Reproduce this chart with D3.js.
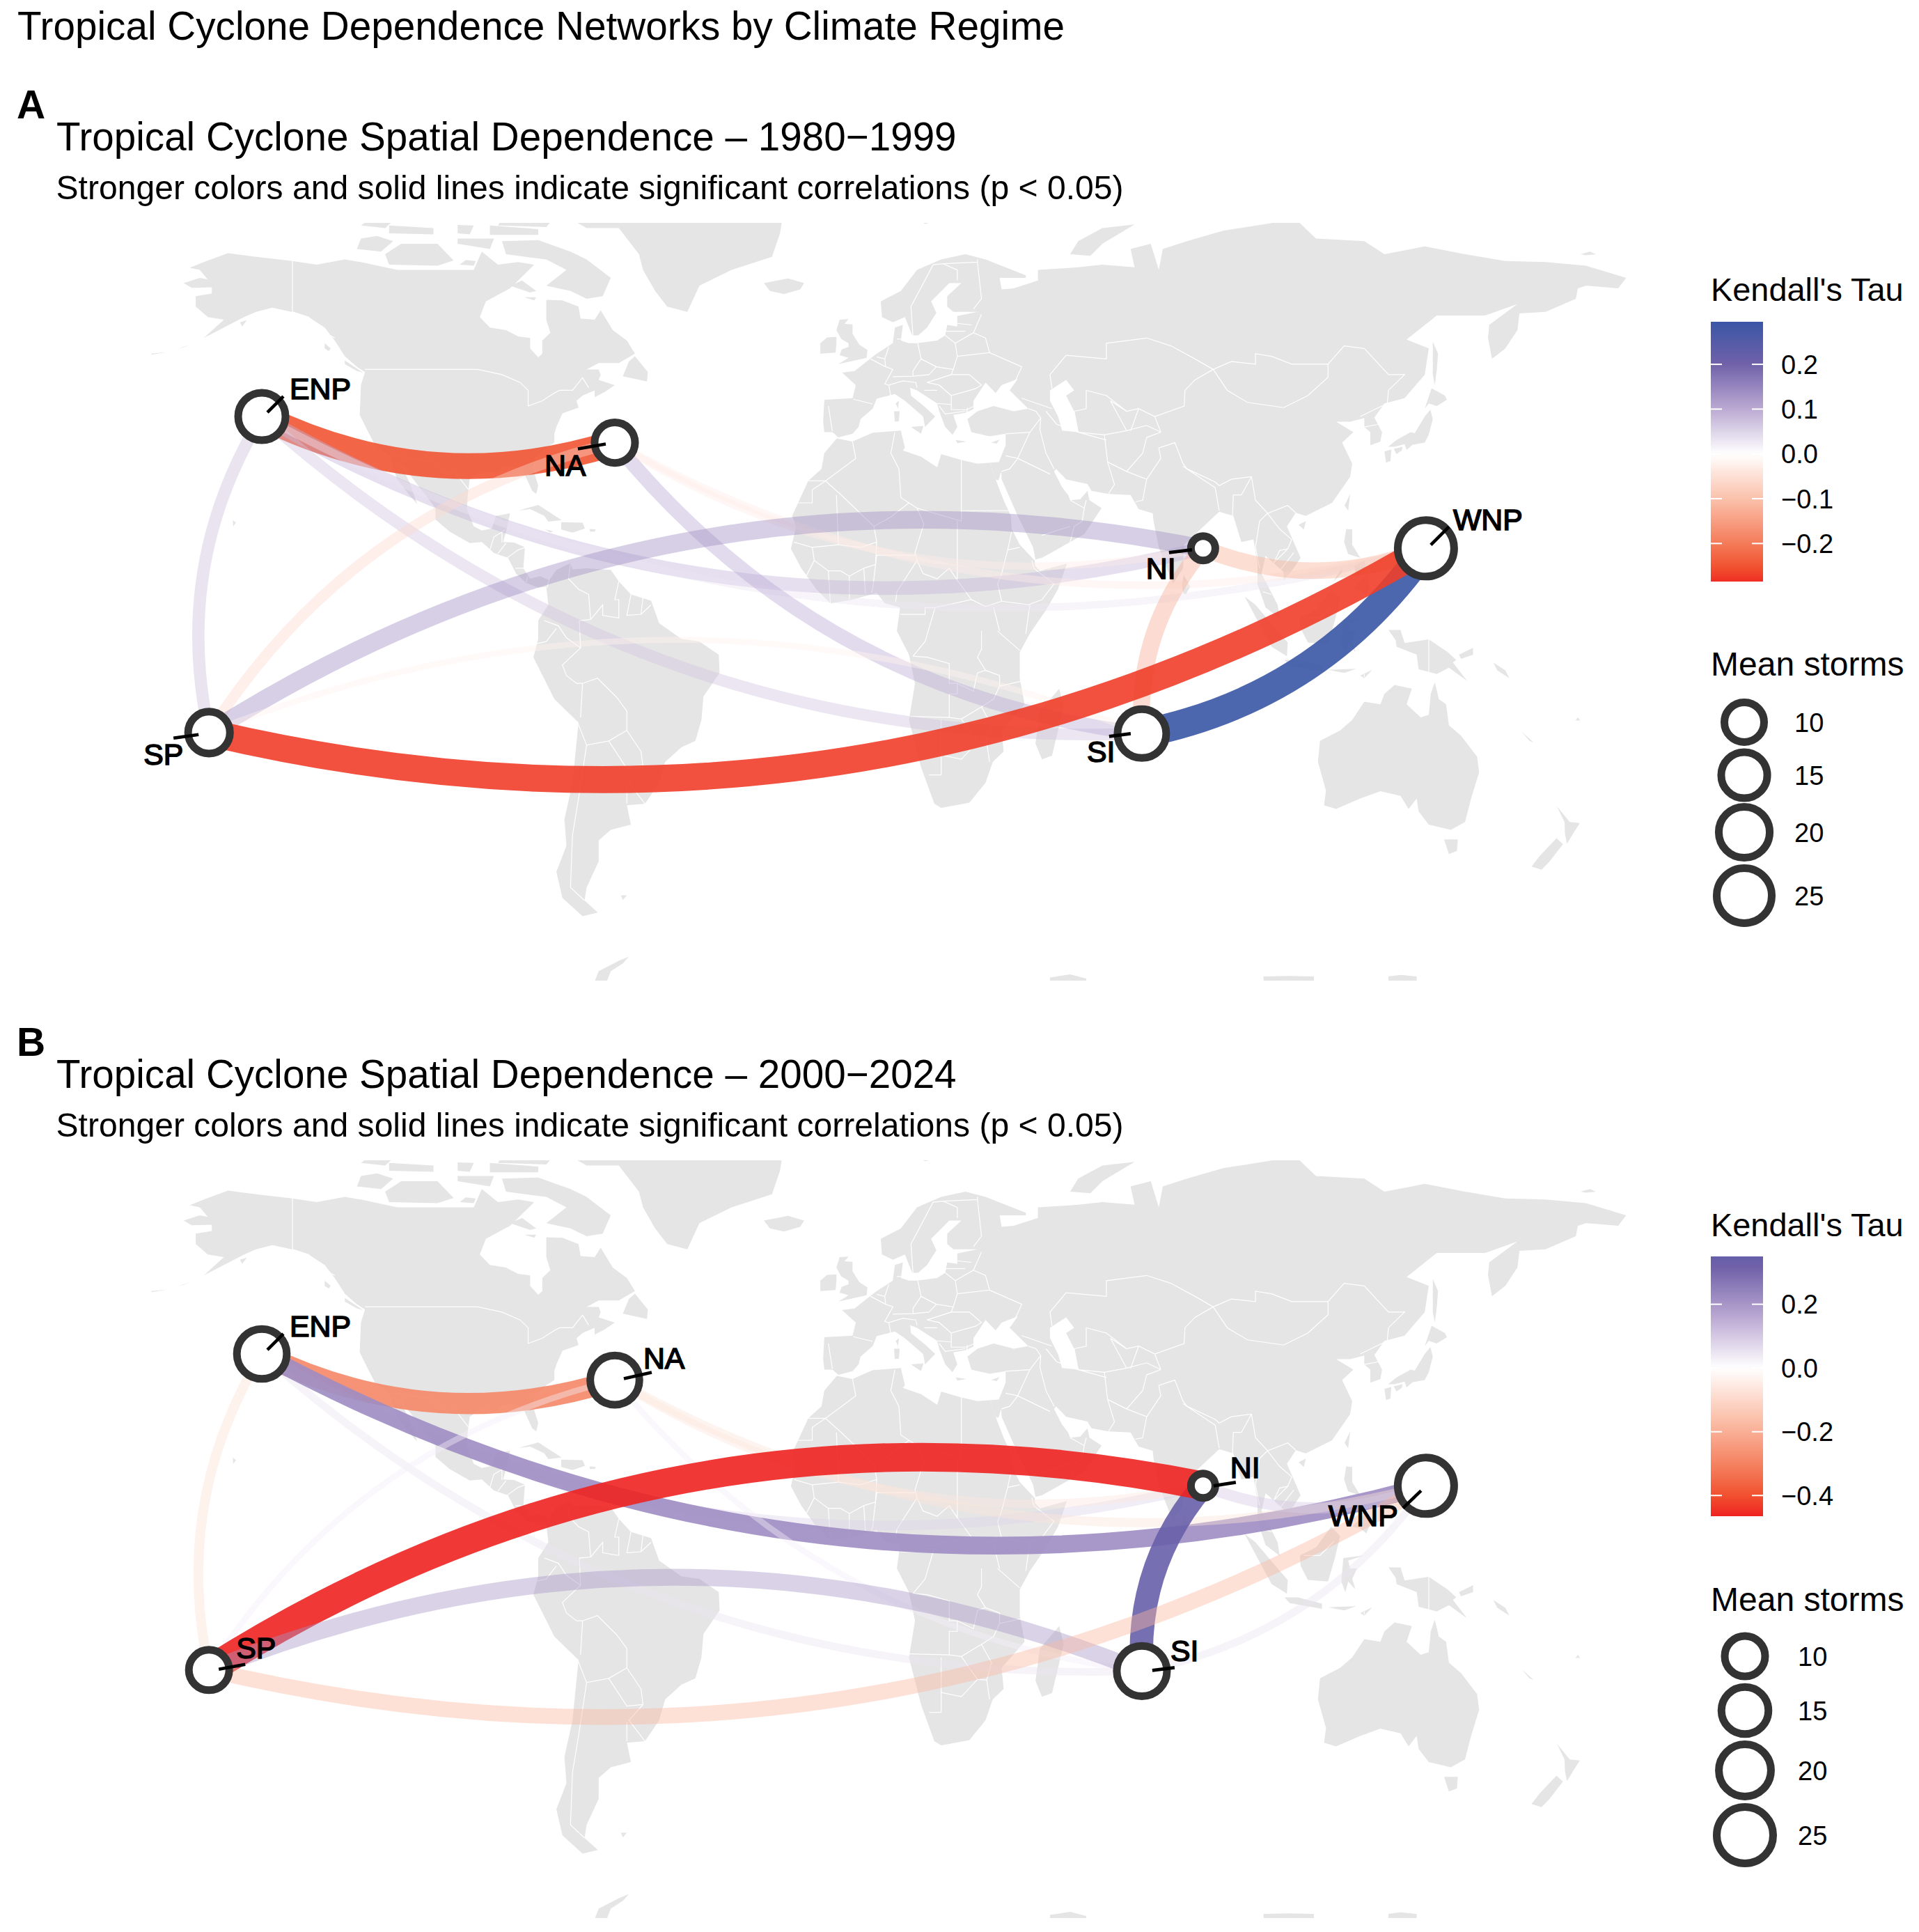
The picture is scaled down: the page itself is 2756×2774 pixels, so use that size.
<!DOCTYPE html>
<html>
<head>
<meta charset="utf-8">
<script src="https://cdnjs.cloudflare.com/ajax/libs/d3/7.8.5/d3.min.js"></script>
<style>
body { margin: 0; background: #fff; }
text { font-family: "Liberation Sans", Arial, sans-serif; }
</style>
</head>
<body>
<svg id="chart"></svg>
<script>
// ---- data ----
const regions = ["ENP", "NA", "NI", "SI", "SP", "WNP"];
const regionLon = [-148.6, -61, 85, 69.8, -161.7, 140.3];
const regionLat = [40, 35, 14.8, -20.6, -20.4, 14.8];

const stormsA = [16.2, 10.5, 5, 17.6, 11.5, 26.8];
const stormsB = [17.7, 17, 5, 18, 10, 25];

const edgeFrom = ["ENP", "ENP", "ENP", "ENP", "ENP", "NA", "NA", "NA", "NA", "NI", "NI", "NI", "SI", "SI", "SP"];
const edgeTo = ["NA", "NI", "SI", "SP", "WNP", "NI", "SI", "SP", "WNP", "SI", "SP", "WNP", "SP", "WNP", "WNP"];
const tauA = [-0.25, 0.09, 0.07, 0.075, 0.03, -0.03, 0.10, -0.06, -0.03, -0.13, 0.14, -0.125, -0.02, 0.295, -0.27];
const sigA = [1, 0, 0, 0, 0, 0, 0, 0, 0, 0, 0, 0, 0, 1, 1];
const tauB = [-0.29, 0.08, 0.05, -0.08, 0.22, -0.06, 0.03, 0.03, -0.07, 0.34, -0.465, 0.1, 0.2, 0.05, -0.18];
const sigB = [1, 0, 0, 0, 1, 0, 0, 0, 0, 1, 1, 0, 0, 0, 0];

const tauTicksA = [0.2, 0.1, 0, -0.1, -0.2];
const tauTicksB = [0.2, 0, -0.2, -0.4];
const tauLimitsA = [-0.285, 0.295];
const tauLimitsB = [-0.465, 0.35];
const stormTicks = [10, 15, 20, 25];

// world outlines, [lon, lat]
const land = [
  // north america
  [[-168,65.5],[-164,66.5],[-162,66.2],[-164,68],[-166.5,68.4],[-163,69.5],[-157,71.2],[-150,70.5],[-141,69.7],[-135,69],[-128,70],[-124,69.5],[-115,68],[-108,68],[-102,68],[-96,68],[-94,71.5],[-90,69],[-85,69.5],[-81,69],[-85,66],[-87,64.5],[-93,62],[-94.5,59],[-92,57],[-88,56.5],[-85,55.3],[-82,55],[-82,53],[-80,51.3],[-79,52],[-79,54.5],[-77,56],[-78,58.5],[-78,62.3],[-74,62.2],[-70,61],[-69.5,58.7],[-66,58.5],[-64.5,60.3],[-61.5,56.5],[-58,54.5],[-56,52],[-60,50.2],[-65,50.2],[-68,49],[-65,49],[-64.5,48],[-65,47],[-61,46],[-63.5,44.7],[-66,43.7],[-66,45],[-69,44],[-70.5,43],[-70,41.7],[-74,40.6],[-75.5,38],[-76,36.7],[-76,35],[-78,34],[-81,32],[-81.3,30],[-80,26.8],[-80.5,25.2],[-81.5,25.8],[-82.8,28],[-84,30],[-86,30.4],[-89,30.3],[-90,29.2],[-94,29.6],[-97,28],[-97.5,25],[-97.7,22.3],[-96,19],[-94,18.2],[-91.5,18.6],[-90.5,21],[-87,21.5],[-88,18],[-88.7,16],[-86,15.9],[-83.3,15],[-83.7,11],[-82,9],[-79.5,9.5],[-77.3,8.7],[-78,7.5],[-80,7.3],[-83,8.2],[-85.5,10],[-87.5,13],[-91,13.9],[-94,16],[-97,15.8],[-102,18],[-105.5,20.3],[-105.5,22.5],[-109,26],[-112.5,29.5],[-114.7,31.7],[-112,27.5],[-110,23.2],[-112,25],[-115,28],[-117,32.5],[-120.5,34.5],[-122.5,37.5],[-124.3,40.3],[-124,46],[-123,48.5],[-125,49.5],[-128,51.5],[-130.5,54.5],[-133,57],[-137,59],[-140,59.8],[-146,60.8],[-150,60],[-153,59],[-158,57],[-163,55],[-158,58.5],[-162,59],[-165,61],[-165,63],[-161,63.5],[-161,64.7],[-166,64.6]],
  // greenland
  [[-73,78.2],[-68,76],[-60,76],[-55,71],[-54,68],[-51,64],[-48,61],[-43,60],[-40,65],[-32,68],[-22,70.5],[-20,75],[-19,80],[-30,83.5],[-60,82.5],[-68,80.5]],
  // south america
  [[-77.3,8.7],[-75.5,10.7],[-72,12],[-71.5,10.8],[-68,11],[-62,10.7],[-60,8.5],[-57,6],[-52,4.8],[-50,0.5],[-44.5,-2.5],[-40,-3],[-35.2,-5.5],[-35,-9],[-39,-13.5],[-39.5,-18],[-41,-22],[-44.5,-23.2],[-48.5,-26],[-50,-30],[-53.5,-34],[-58,-34.3],[-57,-38],[-62,-39],[-65,-41],[-65,-45],[-68,-50],[-68.5,-52.5],[-65.2,-54.8],[-69,-55.5],[-74,-52],[-75.5,-47],[-73,-42],[-73.5,-37],[-71.5,-30],[-70,-18.5],[-76,-14],[-81.2,-6],[-80,-2.5],[-80,1],[-77.5,4],[-78,7.5]],
  // africa
  [[-5.9,35.8],[-2,35.2],[3,36.9],[10,37.3],[11,34],[10.5,33.5],[15,32.3],[19,30.3],[20,32.8],[25,31.7],[29,31],[32.3,31.2],[32.6,29.9],[34,27],[35.5,24],[37.3,21],[37.5,18.5],[39.5,15.5],[43.2,12.5],[43.3,11.5],[44.5,10.5],[51.2,11.9],[49,7],[46,3],[42,-1.5],[39.5,-5],[39.5,-10],[40.7,-15],[35,-20],[35.5,-24],[32.8,-26],[31,-30],[27,-33.8],[20,-34.8],[18.3,-34],[15,-27],[12,-18],[13.5,-11],[12,-5.5],[9,-1],[9.8,3.5],[6,4.3],[4,6.3],[-2,5],[-7.5,4.3],[-11,7],[-14.7,11],[-17.3,14.7],[-16,19],[-17,21],[-13,27.7],[-9.7,30],[-9,33]],
  // eurasia
  [[-9,37],[-9.3,39],[-9,43.2],[-2,43.5],[-1.2,46],[-4.6,48.4],[-1.5,48.7],[1.5,50.5],[4,52],[8,54],[8.5,57],[10.5,57.5],[10,54.5],[12,54],[14,54],[19,54.5],[21,55.5],[21.5,57.5],[24,57.2],[24,59.2],[29,60],[23,60],[21.5,61],[21.5,63],[25,65.5],[22,65.5],[17.5,62],[18.8,59.8],[16.5,57],[14.3,55.5],[12.8,55.5],[11,59],[8,58],[5.3,59],[5,62],[10,64],[14,68],[20,70],[26,71],[31,70],[41,67],[41,66.5],[34.5,66.5],[35,64.3],[38,64.5],[44,66],[44,68],[54,68.5],[60,69],[68,68.5],[67,72],[72,73],[74,68],[75,72],[81,73.5],[90,75.5],[108,77.7],[113,74],[125,73.5],[130,71],[140,72.5],[150,71],[160,69.7],[170,69.5],[180,68.8],[190,66.5],[188,64.5],[180,65],[178,64.5],[177.5,62.5],[170,60],[163.5,59.7],[163,56.5],[160,53],[156.7,51],[155.7,55],[156,57.5],[163,61.5],[155,59.3],[143,59.3],[135.5,54.7],[141,53],[140,48],[135,43.5],[130,42.5],[127.5,39.8],[129.4,37],[129,35.2],[126.5,34.5],[126.5,37],[125,38],[125,39.7],[121.5,39],[118,39],[122.3,37],[119.5,35],[122,31],[121.5,28.5],[117,23.5],[110.5,21],[108,21.6],[105.8,19],[109.2,13],[107,10.5],[105,8.7],[105,10.3],[100.5,13.4],[99.5,10],[103.5,4],[104,1.4],[100.5,3.5],[98.5,8],[98.5,12],[97.5,16.5],[94.5,16],[92.5,21],[89,21.8],[86.5,20],[80.3,15.5],[80,11],[77.5,8],[74,15],[72.7,20],[72.5,21.5],[69,22.3],[67,25],[61.5,25.2],[57.3,25.8],[56.3,27.1],[51,28],[48.5,30],[48,29.5],[50,26.5],[51.5,25],[52,24],[54.5,24.2],[56.3,25.8],[56.8,24],[59.8,22.5],[55.5,17.5],[52,16],[45,13],[43.4,12.7],[42.8,15],[39,21],[35,28],[34.9,29.5],[34.2,27.8],[33.5,28],[32.6,29.9],[32.3,31.2],[34.3,31.3],[36,34.5],[36,36.7],[32,36.2],[27.5,37],[26.5,39.5],[29,41],[33,42],[38,41],[41.6,41.5],[37,45],[39,47.2],[35,46],[33.5,44.5],[31,46.5],[28,43],[28,41.4],[26,40.7],[23,40.3],[24,38],[22.8,36.5],[21,38],[19.5,41],[19,42.5],[14,45],[12.3,45.5],[12.5,44],[16,41.8],[18.5,40],[16,38],[15.5,40],[11,43],[8.5,44.3],[4,43.4],[3,41.5],[0,39.5],[-0.5,38],[-2,36.7],[-5.5,36],[-7,37]],
  // australia, tasmania, new zealand
  [[114,-22],[113.5,-26],[115.5,-31.5],[115,-34.3],[118,-35],[124,-33],[129,-31.6],[134,-32.5],[136,-35],[138,-33],[138.5,-35.5],[141,-38],[146.5,-39],[150,-37.5],[151.5,-33],[153.5,-28],[153,-25],[149,-21],[146,-19],[145.3,-15],[143.5,-14],[142.5,-10.8],[141.5,-13],[141,-17],[139,-17.5],[135.5,-15],[136.8,-12],[132.5,-11.3],[130,-13],[129,-15],[125,-14.5],[122,-18],[119,-20]],
  [[144.8,-40.8],[148.2,-40.8],[148,-43],[146,-43.6]],
  [[172.8,-34.5],[176,-37.5],[178.5,-37.7],[177,-39.5],[175.3,-41.6],[174.8,-39.8],[174.7,-37.5]],
  [[172.7,-40.6],[174.3,-41.7],[171,-45],[169,-46.6],[166.5,-46],[168.5,-44]],
  // canadian arctic
  [[-80,73.7],[-72,71.5],[-68,70],[-62,66.5],[-64,63],[-68,62.5],[-72,64],[-78,65],[-73,68],[-78,70],[-88,71],[-89,73.5]],
  [[-117,69],[-105,68.8],[-101,69.8],[-105,73],[-114,73],[-118,71]],
  [[-125,72],[-119,71.5],[-116,73.5],[-120,74.5],[-124,74]],
  [[-90,76.5],[-78,76.2],[-76,78],[-68,80],[-62,82.5],[-75,83],[-90,82],[-88,79]],
  [[-92,74.7],[-80,74.7],[-80,75.8],[-92,76.5]],
  [[-117,75],[-106,74.8],[-106,76],[-117,76.5]],
  [[-87,65],[-82,63.7],[-80.5,64],[-84,66]],
  [[-100,73],[-92,72],[-91,74],[-100,74]],
  [[-100,75],[-97,74.8],[-96,76.5],[-100,76.6]],
  [[-99.5,69],[-96,68.8],[-95.5,69.7],[-98,69.9]],
  [[-83.5,62.8],[-81,62.2],[-80.5,62.8]],
  [[-124,76.5],[-118,76],[-116,77.4],[-122,77.6]],
  [[-59,47.7],[-53,46.7],[-52.8,48.5],[-56,51.5],[-57.5,50.5]],
  [[-128,50.7],[-123.5,48.4],[-125,48.7],[-128,50]],
  [[-133,54],[-131.5,53],[-132,52.5],[-133,53]],
  // caribbean
  [[-85,22],[-80,23.1],[-74.2,20.2],[-77.5,19.9],[-78.5,21],[-82,22.3]],
  [[-74.3,19.8],[-69,19.7],[-68.4,18.6],[-71.5,17.8],[-74.3,18.4]],
  [[-78.3,18.4],[-76.3,18.1],[-77,17.8]],
  [[-67.2,18.5],[-65.7,18.4],[-66,18],[-67.2,18]],
  // atlantic and europe islands
  [[-24,65.5],[-18,66.4],[-14,65.5],[-15,64.3],[-19,63.4],[-22.5,64]],
  [[-5.5,50],[1.5,51.2],[1.7,52.7],[-0.3,53.7],[-2,55.8],[-2,57.6],[-4,57.7],[-3,58.6],[-5.2,58.5],[-6,56.5],[-4.8,54.8],[-3,54],[-3,53.3],[-4.7,52.8],[-5.2,51.7],[-3,51.2]],
  [[-10,52],[-6.2,52.2],[-6,54],[-6,55.2],[-8.3,55.1],[-10,54]],
  [[11,79],[16,76.8],[22,78],[27,80],[18,80.3]],
  [[52,71],[57,70.7],[60,73],[68,76.7],[60,76],[54,73.5]],
  [[12.5,38],[15.6,38.2],[15,36.7]],
  [[8.3,41],[9.7,41],[9.5,39.1],[8.5,39]],
  [[8.7,42.5],[9.5,43],[9.3,41.5]],
  [[23.6,35.5],[26.3,35.2],[24,34.9]],
  [[32.4,35],[34.5,35.6],[33.8,34.8]],
  [[-59.5,-51.5],[-58,-51.5],[-59,-52.4]],
  // indian ocean
  [[79.8,8],[80.2,9.7],[81.8,7.5],[80.7,6],[80,6.3]],
  [[49.3,-12],[50.4,-15.5],[47.5,-24.8],[45,-25.5],[43.4,-22.5],[44.5,-16.3]],
  // south east asia
  [[95.3,5.6],[98,4],[103.5,-1],[106,-3.2],[105.8,-5.8],[102,-4],[98.5,1]],
  [[105.2,-6.5],[108.5,-6.5],[114.5,-7.7],[114.5,-8.7],[106.5,-7.6]],
  [[109,1.5],[113,3],[116.8,7],[119,5.2],[117.7,1],[116,-3.5],[111,-3.2],[109.2,-0.5]],
  [[119.8,1],[125,1.5],[121,0.5],[121.5,-1],[123.2,-1],[122,-3],[122.8,-5],[121,-3.5],[120.3,-5.5],[119.3,-3.5]],
  [[131,-0.8],[134,-0.8],[135,-3.3],[141,-2.6],[145.7,-5],[147.8,-6.5],[147,-7],[150.5,-10.5],[146,-8],[143,-9.2],[138.5,-8.3],[138,-5.5],[133,-4],[132.8,-2.8]],
  [[148.5,-5.5],[152,-4.2],[152,-5.5],[149,-6.3]],
  [[124,-9.5],[127,-8.4],[125,-10]],
  [[116,-8.4],[119,-8.3],[123,-8.2],[120,-9]],
  [[120.5,18.5],[122,18.4],[122,15.5],[124,13],[121,13.7],[120,16]],
  [[122,7],[125.5,9.7],[126.5,7.5],[125.5,5.7],[124,6.7]],
  [[122.5,11.5],[125,12.5],[125.5,10.5],[123,9.5]],
  [[117.2,8.3],[119.5,11.2],[119.5,10.2]],
  [[120.1,23],[121.5,25.2],[121,22]],
  [[108.7,19.3],[110.5,20],[110,18.4]],
  // japan and sakhalin
  [[130.9,34.2],[133,35.5],[136.5,37],[137.5,36.8],[140,40],[141.4,41.3],[142,39.5],[141,36.5],[140,35],[137,34.6],[135.5,33.6],[135,34.7],[132.5,34.2]],
  [[130,33.3],[131.7,33.7],[131.5,31.5],[130.4,31.2]],
  [[132.3,33.8],[134.5,34.2],[134.3,33.5],[133,32.8]],
  [[140,41.5],[141.7,45.4],[145,44],[145.5,43.2],[143,42],[141,42.5]],
  [[142,54.3],[143.3,52],[143,49],[142.5,46],[142,48],[142,52]],
  // pacific bits
  [[164,-20.2],[167,-22.3],[166,-22]],
  [[157,-7],[160,-8.5],[161,-10],[158,-8.5]],
  [[178,-17.5],[178.6,-18.1],[177.4,-18.1]],
  [[-155.8,20.2],[-155,19.7],[-155.7,19]],
  [[-154,58],[-152.3,58.4],[-153.5,57.2]],
  [[-170,52.8],[-166,53.8],[-168,53.2]],
  [[-176,52],[-172,52.3],[-176,51.8]],
  [[178.7,71],[181,71.5],[182.5,71],[180,70.8]],
  // antarctica, only the tips show
  [[-57.5,-63.2],[-60,-64],[-65,-66],[-66,-68],[-63,-68],[-62,-66],[-59,-64.5]],
  [[47,-67.2],[52,-66.6],[56,-67.4],[56,-69],[47,-69]],
  [[100,-67],[106,-66.9],[112.5,-67],[112.5,-70],[100,-70]],
  [[131,-67],[134,-66.7],[138,-67],[138,-70],[131,-70]]
];

// inland sea, left white
const water = [
  [[47,45],[51,47],[53,45],[51,44],[53,41],[54,37],[50,37.3],[49,40],[47,43]]
];

// country borders
const borders = [
  [[-141,69.7],[-141,60],[-137,59],[-133,56],[-130.5,55]],
  [[-123,49],[-95,49],[-89,48],[-84.5,46.5],[-82.5,45],[-82.5,42],[-79,43],[-76,44.5],[-74.7,45],[-71.5,45],[-69,47.4],[-67.5,45.5]],
  [[-117,32.5],[-114.7,32.5],[-108,31.5],[-106.5,31.7],[-103,29],[-101,29.7],[-97.3,26]],
  [[-92,14.5],[-91,17],[-89,17.9],[-88.3,18.4]],[[-89,17.9],[-89,15.9]],[[-90,13.8],[-88,15.8]],[[-87.7,13],[-85,14.5],[-83.2,15]],[[-85.7,11],[-83.7,11]],[[-83,8.3],[-82.6,9.5]],[[-77.3,8.7],[-77.8,7.3]],
  [[-72,12],[-72.5,9],[-70,7],[-67.5,6],[-67,1.2],[-69.8,1],[-69.5,-4.2],[-73,-2.3],[-75,0],[-78.5,1]],
  [[-60,8.5],[-61,5],[-60,5],[-60,1.5],[-64,2],[-64,4],[-67,1.2]],
  [[-57,6],[-58,2],[-54.5,2.2],[-54,5.5]],[[-52,4],[-54.5,2.2]],
  [[-69.5,-4.2],[-74,-7.5],[-73,-9.5],[-70.5,-11],[-69,-11],[-65.3,-10],[-60.5,-13.7],[-58,-16.3],[-58,-20],[-54.5,-24],[-54,-27],[-57.5,-30],[-53.5,-34]],
  [[-80.3,-3.4],[-78,-3],[-75.5,-0.5]],
  [[-69.5,-17.5],[-69,-11]],[[-70.3,-18.3],[-68,-22.8],[-62.5,-22],[-58,-20]],
  [[-68,-22.8],[-70,-33],[-71.5,-40],[-72,-50],[-68.5,-52.5]],
  [[-62.5,-22],[-58,-27.3],[-54,-27]],[[-58,-34],[-58,-30.3]],
  [[-2,35.2],[-1.2,32],[-8.7,27.7]],[[-8.7,27.7],[-13,27.7]],[[-8.7,27.7],[-12,26],[-12,23.5],[-16,23.5]],
  [[-8.7,27.7],[-4.8,25],[3.3,19],[4,16],[0,15],[-5.5,15.5],[-6,25]],[[-12,15],[-5.5,15.5]],[[-16.5,16],[-12,15],[-11.5,12.5],[-8,10.5],[-5,10.5],[-2.8,9.5],[0.8,11],[3.7,11.7],[4,16]],
  [[8.5,37],[7.5,33],[9.5,30],[10,24.5],[12,23.5],[14,22.5],[25,20],[25,31.7]],[[3.3,19],[7.5,20.8],[12,23.5]],
  [[25,22],[37,22]],[[14,22.5],[15.7,19.5],[13.5,14],[14,12.5],[15.5,10],[19,9],[22,11],[24,8.7],[24,15.7],[24,20]],
  [[3.7,11.7],[3,7],[2.7,6.3]],[[3.7,11.7],[4,13.5],[13.5,13.5]],[[14,12.5],[9,6.5],[8.7,4.5]],[[9.8,2.2],[16,2.2],[16,3.5],[18.5,3.5],[27.5,5],[31,3.7],[35,4.7],[42,4],[41,-1.5]],
  [[-2.8,9.5],[-2.8,5]],[[0.8,11],[1.2,6.1]],[[-8,10.5],[-7.5,4.3]],[[-11.5,12.5],[-13.5,9.5]],
  [[24,8.7],[27.5,5]],[[33,3.5],[34.5,-1]],[[34,-1],[39.5,-4.7]],[[30,-1],[30,-4.5],[29,-6],[31,-8.5],[34.5,-9.5],[34.5,-11.5],[40.5,-10.5]],
  [[18.5,3.5],[16,-3],[13,-5.8]],[[13,-5.8],[16.5,-6],[22,-7.2],[22,-11],[24,-11],[24,-13],[22,-13],[22,-17.5],[12,-17.3]],
  [[24,-11],[28,-12.5],[29,-9],[31,-8.5]],[[22,-17.5],[25,-17.8],[30,-15.5],[33,-14],[34.5,-11.5]],[[25,-17.8],[29,-22.2],[31.3,-22.3],[32.5,-19],[30,-15.5]],
  [[20,-18],[20,-28.5],[17,-28.5]],[[20,-24.7],[25,-25.5],[29,-22.2]],[[31.3,-22.3],[32,-26]],
  [[37.5,18],[36.5,14.5],[35,10],[34,8],[35,4.7]],[[36.5,14.5],[39.5,15]],[[42.5,12.5],[43,11]],[[43,11],[48,8],[45,5],[41.5,4]],
  [[-8,42],[-7,37.2]],[[-1.8,43.3],[3,42.4]],[[7.5,43.8],[7,46],[6,46.2],[8,49],[6.2,49.5],[2.5,51]],[[6.2,49.5],[6,51],[7,53.3]],[[4,51.4],[6,51]],
  [[8,47.6],[13,47.7],[13,48.7],[15,51],[14.2,54]],[[9,54.8],[10,54.8]],[[7,46],[10.5,46.8],[13.7,46.5],[14,45.5]],[[13,47.7],[17,48]],[[17,48],[18.8,49.5],[23,49],[22.5,48],[16.5,46.5]],[[15,51],[18.8,49.5]],
  [[23,49],[24,51.5],[23.5,54],[21,55.5]],[[23.5,54],[28,56],[30,59.5]],[[24,57.8],[27.5,57.5]],[[21,56.3],[26,56.3]],[[24,51.5],[32,52.2],[31,55],[28,56]],[[32,52.2],[40,49.5],[38.5,47]],
  [[22.5,48],[27,48],[30,46],[28.5,45.3],[22.5,44],[22.5,41.3],[26.3,41.3],[28,41.9]],[[22.5,44],[19.5,46],[16.5,46.5]],[[19.5,42],[21,40.5],[26,41]],[[19,45],[15.8,45]],[[19,42.5],[22.5,42.3]],
  [[13,55.3],[12.5,61],[18,69],[20.5,69.2],[24,68],[24,66]],[[20.5,69.2],[29,69.5],[29,70]],[[29,69.5],[30,62.5],[28,60.5]],
  [[26.5,41.7],[26.3,40.5]],[[36,36.7],[42,37],[44.7,39.7],[43.5,41],[41.6,41.5]],[[40,43.5],[47.5,41.5]],[[46,41],[48.7,38.5]],[[44.7,39.7],[44.5,37.5],[46,33],[48,30]],
  [[36,32.5],[39,32],[42,37]],[[39,32],[47,29]],[[35,29.5],[37,30],[39,32]],[[52,16],[53,19],[55,20],[55.5,22.5],[52,24]],[[45,17.3],[52,19]],[[56,24],[55.5,22.5]],
  [[48.7,38.5],[54,37],[60.5,36.5],[61.3,31.3],[63,27],[61.5,25.2]],[[54,37],[53,41]],[[60.5,36.5],[66,37.3],[71,38.3],[74.5,37]],[[61.3,31.3],[66,29.5],[70,33],[71,36],[74.5,37]],[[66,29.5],[71,28],[70,24],[68.2,23.7]],
  [[71,28],[74.5,32],[74,34],[78,35],[80,31],[81,30],[88,27.5],[89,26.8],[92,28],[97,28.5],[98,24],[101,21.5],[106,23],[108,21.6]],
  [[80,30.5],[88,26.4]],[[88,26.4],[89,22]],[[92.3,21],[92.5,25],[94.5,25]],[[97,28.5],[94.5,25]],[[101,21.5],[99,20],[98,15],[99,11]],[[101,21.5],[104,18.5],[107,16.5],[106,14.7],[102.5,12]],[[106,14.7],[104,14.4],[102.5,12]],[[99.8,6.5],[102,6]],[[104,10.5],[107.5,14]],
  [[51,51.7],[47,48],[47.5,45.3]],[[51,51.7],[61,51],[61,54],[71,55],[77,53.5],[83,51],[87.5,49]],[[53,41],[56,41.5],[56,45],[61,44],[66,41],[69,41.5],[73,40],[80.3,42],[80.5,45],[83,47],[87.5,49]],[[54,37],[61,35.5]],[[66,37.3],[62,43],[66,41]],[[69,41.5],[67,37.2]],[[73,40],[74.5,37]],
  [[87.5,49],[92,50.5],[98,50],[98,52],[102,51.5],[107,50],[116,50],[120,53.5],[125,53],[131,48],[135,48],[131,45],[130.7,42.5]],[[87.5,49],[91,45],[96,42.7],[105,41.7],[111,44],[116,47.5],[116,50]],[[124,40],[128,41.5],[130.7,42.5]],[[125,38],[128.5,38.5]],
  [[141,-2.6],[141,-9]],[[110,1.5],[114,1.5],[117.5,4.2]],[[125,-9.2],[125,-9.8]]
];

// ---- layout (pixels) ----
const W = 2756, H = 2774;
const panels = [
  {
    letter: "A", title: "Tropical Cyclone Spatial Dependence \u2013 1980\u22121999", dy: 0,
    tau: tauA, sig: sigA, storms: stormsA, stormMax: 26.8, ticks: tauTicksA, limits: tauLimitsA,
    tauTitleY: 432, barY: 462, sizeTitleY: 970, keyX: 2505, keyLabelX: 2577, keyY: [1037, 1113, 1195, 1286],
    // label text offset from node, leader start and end offset from node
    labels: {
      ENP: [40, -25, 8, -6, 31, -29], NA: [-101, 47, -13, 2, -53, 9], NI: [-82, 44, -16, 2, -49, 6],
      SI: [-79, 41, -16, 0, -47, 4], SP: [-94, 46, -15, 3, -51, 8], WNP: [39, -26, 7, -5, 33, -31]
    }
  },
  {
    letter: "B", title: "Tropical Cyclone Spatial Dependence \u2013 2000\u22122024", dy: 1346,
    tau: tauB, sig: sigB, storms: stormsB, stormMax: 25, ticks: tauTicksB, limits: tauLimitsB,
    tauTitleY: 1775 - 1346, barY: 1804 - 1346, sizeTitleY: 2313 - 1346, keyX: 2506, keyLabelX: 2582, keyY: [1032, 1110, 1196, 1289],
    labels: {
      ENP: [40, -25, 8, -6, 31, -29], NA: [41, -17, 13, -2, 53, -11], NI: [39, -11, 15, 0, 47, -5],
      SI: [41, -14, 15, -1, 47, -5], SP: [39, -17, 14, -1, 52, -8], WNP: [-140, 58, -7, 7, -33, 32]
    }
  }
];

let svg = d3.select("#chart").attr("width", W).attr("height", H)
    .attr("viewBox", "0 0 " + W + " " + H);

svg.append("text").attr("x", 25).attr("y", 57).attr("font-size", 56.7)
    .text("Tropical Cyclone Dependence Networks by Climate Regime");

// map scales: same in both panels
const x = d3.scaleLinear().domain([-180, 190]).range([194.3, 2335.5]);
const y = d3.scaleLinear().domain([77, -67.8]).range([320, 1408]);
const lineGen = d3.line().x(d => x(d[0])).y(d => y(d[1]));

svg.append("clipPath").attr("id", "mapclip").append("rect")
    .attr("x", 0).attr("y", 320).attr("width", 2400).attr("height", 1088);

// colour ramp, position as a share of the largest |tau|
const rampAt = [-1, -0.86, -0.68, -0.34, 0, 0.34, 0.68, 1];
const rampColors = ["#EE2220", "#F1512F", "#F47B59", "#FBC1AB", "#FFFFFF", "#BBA9D3", "#7061A9", "#3A56A6"];
const sigAlpha = 0.9, faintAlpha = 0.42;

panels.forEach((p, pi) => {
    let g = svg.append("g").attr("transform", "translate(0," + p.dy + ")");

    g.append("text").attr("x", 24).attr("y", 170).attr("font-size", 57).attr("font-weight", "bold").text(p.letter);
    g.append("text").attr("x", 81).attr("y", 215.5).attr("font-size", 56.6).text(p.title);
    g.append("text").attr("x", 80.5).attr("y", 286).attr("font-size", 48.1)
        .text("Stronger colors and solid lines indicate significant correlations (p < 0.05)");

    // map
    let map = g.append("g").attr("clip-path", "url(#mapclip)");
    map.selectAll("path.land").data(land).enter().append("path")
        .attr("class", "land")
        .attr("d", d => lineGen(d) + "Z")
        .attr("fill", "#E5E5E5");
    map.selectAll("path.water").data(water).enter().append("path")
        .attr("class", "water")
        .attr("d", d => lineGen(d) + "Z")
        .attr("fill", "#fff");
    map.selectAll("path.border").data(borders).enter().append("path")
        .attr("class", "border")
        .attr("d", lineGen)
        .attr("fill", "none")
        .attr("stroke", "#fff")
        .attr("stroke-width", 1.2);

    // tau scales
    let maxTau = d3.max(p.limits, Math.abs);
    let colorScale = d3.scaleLinear().domain(rampAt.map(t => t * maxTau)).range(rampColors);
    let widthScale = d3.scalePow().exponent(0.7).domain([0, maxTau]).range([3, 41]);

    let pos = name => {
        let i = regions.indexOf(name);
        return [x(regionLon[i]), y(regionLat[i])];
    };

    // curved links, bend to the right of the direction of travel
    let curve = (a, b) => {
        let dx = b[0] - a[0], dy = b[1] - a[1];
        let path = d3.path();
        path.moveTo(a[0], a[1]);
        path.quadraticCurveTo((a[0] + b[0]) / 2 - dy * 0.2, (a[1] + b[1]) / 2 + dx * 0.2, b[0], b[1]);
        return path.toString();
    };

    g.selectAll("path.edge").data(edgeFrom).enter().append("path")
        .attr("class", "edge")
        .attr("d", (d, i) => curve(pos(d), pos(edgeTo[i])))
        .attr("fill", "none")
        .attr("stroke", (d, i) => colorScale(p.tau[i]))
        .attr("stroke-opacity", (d, i) => p.sig[i] ? sigAlpha : faintAlpha)
        .attr("stroke-width", (d, i) => widthScale(Math.abs(p.tau[i])));

    // storm rings: ggplot style area scale from the smallest basin
    let stormMin = 5;
    let sizeScale = d3.scaleSqrt().domain([0, p.stormMax - stormMin]).range([17.5, 40.5]);
    let radius = v => sizeScale(v - stormMin);

    g.selectAll("circle.node").data(regions).enter().append("circle")
        .attr("class", "node")
        .attr("cx", d => pos(d)[0])
        .attr("cy", d => pos(d)[1])
        .attr("r", (d, i) => radius(p.storms[i]))
        .attr("fill", "#fff")
        .attr("stroke", "#333333")
        .attr("stroke-width", 11);

    // leader lines and labels
    regions.forEach(r => {
        let c = pos(r), l = p.labels[r];
        g.append("line")
            .attr("x1", c[0] + l[2]).attr("y1", c[1] + l[3])
            .attr("x2", c[0] + l[4]).attr("y2", c[1] + l[5])
            .attr("stroke", "#000").attr("stroke-width", 4.6);
        g.append("text")
            .attr("x", c[0] + l[0]).attr("y", c[1] + l[1])
            .attr("font-size", 42.8)
            .attr("stroke", "#000").attr("stroke-width", 1.6)
            .text(r);
    });

    // colour bar
    let barX = 2457, barW = 75, barH = 373;
    let barScale = d3.scaleLinear().domain(p.limits).range([p.barY + barH, p.barY]);
    let grad = svg.append("linearGradient").attr("id", "tau" + pi)
        .attr("x1", 0).attr("x2", 0).attr("y1", 1).attr("y2", 0);
    d3.range(0, 1.0001, 0.02).forEach(t => {
        grad.append("stop").attr("offset", t)
            .attr("stop-color", colorScale(p.limits[0] + t * (p.limits[1] - p.limits[0])));
    });
    g.append("text").attr("x", barX).attr("y", p.tauTitleY).attr("font-size", 46.9).text("Kendall's Tau");
    g.append("rect").attr("x", barX).attr("y", p.barY).attr("width", barW).attr("height", barH)
        .attr("fill", "url(#tau" + pi + ")");
    p.ticks.forEach(t => {
        [[barX, barX + 16], [barX + barW - 16, barX + barW]].forEach(e => {
            g.append("line").attr("x1", e[0]).attr("x2", e[1])
                .attr("y1", barScale(t)).attr("y2", barScale(t))
                .attr("stroke", "#fff").attr("stroke-width", 2);
        });
        g.append("text").attr("x", 2558).attr("y", barScale(t) + 13.5).attr("font-size", 38)
            .text(t === 0 ? "0.0" : (t < 0 ? "\u2212" : "") + d3.format(".1f")(Math.abs(t)));
    });

    // size legend
    g.append("text").attr("x", barX).attr("y", p.sizeTitleY).attr("font-size", 48).text("Mean storms");
    stormTicks.forEach((s, i) => {
        g.append("circle").attr("cx", p.keyX).attr("cy", p.keyY[i]).attr("r", radius(s))
            .attr("fill", "#fff").attr("stroke", "#333333").attr("stroke-width", 11);
        g.append("text").attr("x", p.keyLabelX).attr("y", p.keyY[i] + 13.5).attr("font-size", 38).text(s);
    });
});
</script>
</body>
</html>
